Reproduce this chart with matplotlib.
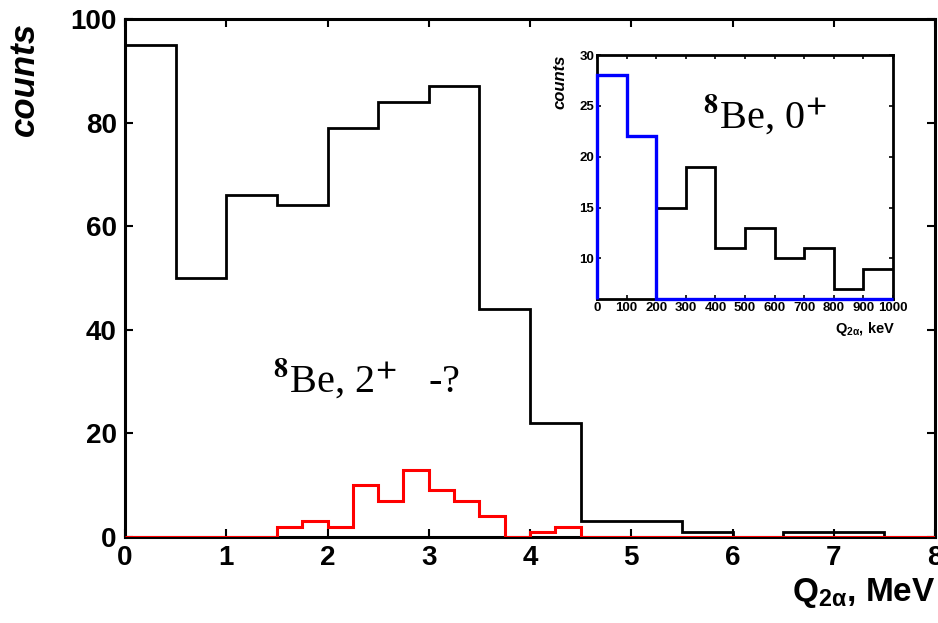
import matplotlib.pyplot as plt
import numpy as np

plt.rcParams['font.family'] = 'Liberation Sans'
plt.rcParams['font.weight'] = 'bold'
plt.rcParams['mathtext.fontset'] = 'custom'
plt.rcParams['mathtext.rm'] = 'Liberation Sans:bold'
plt.rcParams['mathtext.it'] = 'Liberation Sans:bold'
plt.rcParams['mathtext.bf'] = 'Liberation Sans:bold'

# --- main histogram, 0.5 MeV bins ---
main_edges = np.arange(0, 8.01, 0.5)
main_counts = [95, 50, 66, 64, 79, 84, 87, 44, 22, 3, 3, 1, 0, 1, 1, 0]

# --- red histogram (2+ candidates), 0.25 MeV bins ---
red_edges = np.arange(0, 8.01, 0.25)
red_counts = [0, 0, 0, 0, 0, 0, 2, 3, 2, 10, 7, 13, 9, 7, 4, 0,
              1, 2, 0, 0, 0, 0, 0, 0, 0, 0, 0, 0, 0, 0, 0, 0]

# --- inset, 100 keV bins ---
inset_edges = np.arange(0, 1001, 100)
inset_black = [28, 22, 15, 19, 11, 13, 10, 11, 7, 9]
inset_blue = [28, 22, 0, 0, 0, 0, 0, 0, 0, 0]
inset_ymin, inset_ymax = 6, 30

fig = plt.figure(figsize=(9.38, 6.23), dpi=100)
ax = fig.add_axes([0.1333, 0.138, 0.8635, 0.8315])

ax.stairs(main_counts, main_edges, color='black', linewidth=2.0, zorder=2)
ax.stairs(red_counts, red_edges, color='red', linewidth=2.2, zorder=3)

ax.set_xlim(0, 8)
ax.set_ylim(0, 100)
ax.set_xticks(range(0, 9))
ax.set_yticks(range(0, 101, 20))
ax.tick_params(direction='in', length=6, width=1.5, top=True, right=True,
               labelsize=20, pad=6)
for s in ax.spines.values():
    s.set_linewidth(2.2)

fig.text(0.026, 0.965, 'counts', rotation=90, ha='center', va='top',
         fontsize=25, fontweight='bold', fontstyle='italic')
fig.text(0.997, 0.036, r'Q$_{2\alpha}$, MeV', ha='right', va='baseline',
         fontsize=24, fontweight='bold')

ax.text(0.183, 0.278, r'$^{8}$Be, 2$^{+}$   -?', transform=ax.transAxes,
        fontsize=29, fontfamily='Liberation Serif', fontweight='normal',
        math_fontfamily='stix', ha='left', va='baseline')

# --- inset ---
ins = fig.add_axes([0.6365, 0.520, 0.3156, 0.3917])
ins.stairs(inset_black, inset_edges, color='black', linewidth=2.0,
           baseline=None, zorder=2)
# blue counts below the inset range are drawn along its floor
ins.stairs(np.maximum(inset_blue, inset_ymin), inset_edges, color='#0000ff',
           linewidth=2.4, baseline=inset_ymin, zorder=3, clip_on=False)
ins.set_xlim(0, 1000)
ins.set_ylim(inset_ymin, inset_ymax)
ins.set_xticks(range(0, 1001, 100))
ins.set_yticks(range(10, 31, 5))
ins.tick_params(direction='in', length=3, width=1.2, top=True, right=True,
                labelsize=9.5, pad=2)
for s in ins.spines.values():
    s.set_linewidth(2.0)

fig.text(0.597, 0.912, 'counts', rotation=90, ha='center', va='top',
         fontsize=12, fontweight='bold', fontstyle='italic')
fig.text(0.954, 0.4655, r'Q$_{2\alpha}$, keV', ha='right', va='baseline',
         fontsize=10.5, fontweight='bold')
ins.text(0.358, 0.70, r'$^{8}$Be, 0$^{+}$', transform=ins.transAxes,
         fontsize=29, fontfamily='Liberation Serif', fontweight='normal',
         math_fontfamily='stix', ha='left', va='baseline')

fig.savefig('out.png', dpi=100)
